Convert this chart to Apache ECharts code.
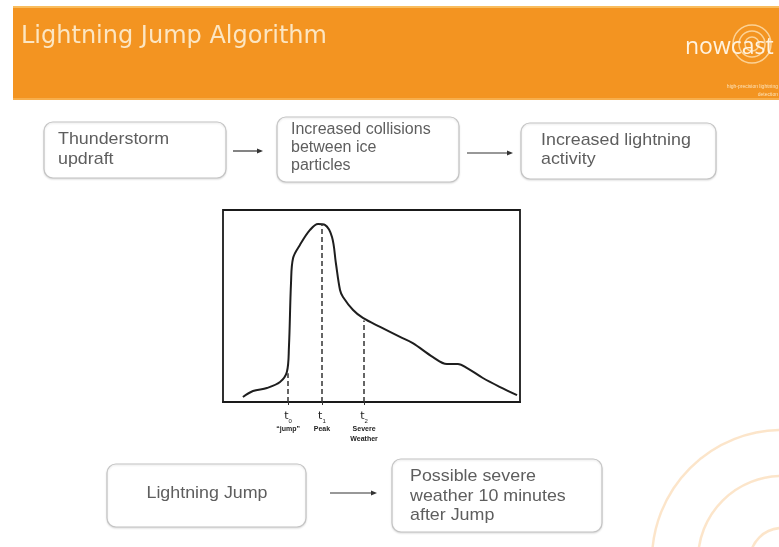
<!DOCTYPE html>
<html>
<head>
<meta charset="utf-8">
<script src="https://cdn.jsdelivr.net/npm/echarts@6/dist/echarts.min.js"></script>
<style>
  html, body { margin: 0; padding: 0; background: #fff; }
  #main { width: 779px; height: 547px; }
</style>
</head>
<body>
<div id="main"></div>
<script>
// lightning activity curve (time 0-100, activity 0-100)
var timeSteps = [6.7, 10.1, 14.8, 19.2, 21.5, 22.2, 22.9, 23.6, 25.9, 29.3, 32.0, 34.3, 36.7, 38.0, 39.4, 40.4, 43.8, 47.1, 52.9, 59.6, 63.9, 70.7, 75.4, 79.1, 82.2, 87.5, 93.3, 99.0];
var activity  = [2.6, 5.7, 7.3, 10.4, 15.6, 28.6, 62.0, 75.0, 81.8, 89.6, 92.7, 92.2, 85.9, 72.4, 58.3, 54.7, 47.9, 43.8, 39.1, 33.9, 30.7, 23.4, 19.8, 19.8, 17.7, 12.5, 7.8, 3.6];

// marker lines t0, t1, t2
var markerX    = [21.9, 33.3, 47.5];
var markerTop  = [15.0, 92.7, 42.5];
var markerSub  = ['0', '1', '2'];
var markerName = ['\u201cjump\u201d', 'Peak', 'Severe\nWeather'];

// flow boxes
var topBoxText = ['Thunderstorm\nupdraft', 'Increased collisions\nbetween ice\nparticles', 'Increased lightning\nactivity'];
var bottomBoxText = ['Lightning Jump', 'Possible severe\nweather 10 minutes\nafter Jump'];

var textColor = '#5e5e5e';

function box(x, y, w, h) {
    return {
        type: 'rect',
        shape: { x: x, y: y, width: w, height: h, r: 9 },
        style: { fill: '#fff', stroke: '#c4c4c4', lineWidth: 1.2, shadowBlur: 2, shadowColor: 'rgba(0,0,0,0.12)', shadowOffsetY: 1 }
    };
}

function boxText(str, x, y, align, lh, size, sx) {
    return {
        type: 'text',
        x: x, y: y, scaleX: sx || 1.05, scaleY: 1,
        style: {
            text: str, x: 0, y: 0, font: (size || 17) + 'px "Liberation Sans", Arial, sans-serif',
            fill: textColor, lineHeight: lh || 19,
            textAlign: align, align: align, textVerticalAlign: 'middle', verticalAlign: 'middle'
        }
    };
}

function arrow(x1, x2, y) {
    return {
        type: 'group',
        children: [
            { type: 'line', shape: { x1: x1, y1: y, x2: x2 - 5, y2: y }, style: { stroke: '#333', lineWidth: 1.2 } },
            { type: 'polygon', shape: { points: [[x2, y], [x2 - 6, y - 2.5], [x2 - 6, y + 2.5]] }, style: { fill: '#333' } }
        ]
    };
}

var curve = timeSteps.map(function(t, i) {
    return [t, activity[i]];
});

var markLines = markerX.map(function(x, i) {
    return [{ coord: [x, 0] }, { coord: [x, markerTop[i]] }];
});

var chart = echarts.init(document.getElementById('main'));

var graphics = [
    // header band
    { type: 'rect', shape: { x: 13, y: 6, width: 766, height: 94 }, style: { fill: '#F39421' } },
    { type: 'rect', shape: { x: 13, y: 6, width: 766, height: 2 }, style: { fill: '#F9BD5E' } },
    { type: 'rect', shape: { x: 13, y: 98, width: 766, height: 2 }, style: { fill: '#F7AE4C' } },
    { type: 'text', style: { text: 'Lightning Jump Algorithm', x: 21, y: 37, font: '24px "DejaVu Sans", sans-serif', fill: '#FCE6C2', textVerticalAlign: 'middle', verticalAlign: 'middle' } },
    // logo
    { type: 'circle', shape: { cx: 752, cy: 44, r: 7 }, style: { fill: 'none', stroke: 'rgba(255,236,200,0.7)', lineWidth: 1.5 } },
    { type: 'circle', shape: { cx: 752, cy: 44, r: 13 }, style: { fill: 'none', stroke: 'rgba(255,236,200,0.7)', lineWidth: 1.5 } },
    { type: 'circle', shape: { cx: 752, cy: 44, r: 19 }, style: { fill: 'none', stroke: 'rgba(255,236,200,0.7)', lineWidth: 1.5 } },
    { type: 'text', style: { text: 'nowcast', x: 685, y: 47, font: '23px "Open Sans", sans-serif', fill: '#FFF3E0', textVerticalAlign: 'middle', verticalAlign: 'middle' } },
    { type: 'text', style: { text: 'high-precision lightning\ndetection', x: 778, y: 91, font: '5px sans-serif', fill: '#FCE2B8', lineHeight: 8, textAlign: 'right', align: 'right', textVerticalAlign: 'middle', verticalAlign: 'middle' } },
    // decorative arcs
    { type: 'circle', shape: { cx: 782, cy: 560, r: 130 }, style: { fill: 'none', stroke: 'rgba(244,170,80,0.3)', lineWidth: 2.5 } },
    { type: 'circle', shape: { cx: 782, cy: 560, r: 84 }, style: { fill: 'none', stroke: 'rgba(244,170,80,0.3)', lineWidth: 2.5 } },
    { type: 'circle', shape: { cx: 782, cy: 560, r: 32 }, style: { fill: 'none', stroke: 'rgba(244,170,80,0.3)', lineWidth: 2.5 } },
    // top flow
    box(44, 122, 182, 56), boxText(topBoxText[0], 58, 149, 'left', 20),
    arrow(233, 263, 151),
    box(277, 117, 182, 65), boxText(topBoxText[1], 291, 148, 'left', 18, 16, 1),
    arrow(467, 513, 153),
    box(521, 123, 195, 56), boxText(topBoxText[2], 541, 150, 'left', 19),
    // bottom flow
    box(107, 464, 199, 63), boxText(bottomBoxText[0], 207, 493, 'center'),
    arrow(330, 377, 493),
    box(392, 459, 210, 73), boxText(bottomBoxText[1], 410, 496, 'left', 19.5)
];

var option = {
    animation: false,
    backgroundColor: '#fff',
    grid: { left: 223, top: 210, width: 297, height: 192, show: true, borderColor: '#1a1a1a', borderWidth: 1.8, containLabel: false },
    xAxis: {
        type: 'value', min: 0, max: 100,
        axisLine: { show: true, lineStyle: { color: '#1a1a1a', width: 1.8 } },
        splitLine: { show: false },
        axisTick: { show: true, customValues: markerX, length: 3, inside: false, lineStyle: { color: '#333' } },
        axisLabel: {
            show: true, customValues: markerX, margin: 7,
            formatter: function(v) {
                var i = markerX.indexOf(v);
                if (i < 0) return '';
                var lines = markerName[i].split('\n').map(function(s) {
                    return '{w|' + s + '}';
                });
                return '{t|t}{s|' + markerSub[i] + '}\n' + lines.join('\n');
            },
            rich: {
                t: { fontSize: 11, lineHeight: 15, color: '#222', fontFamily: 'DejaVu Sans' },
                s: { fontSize: 6, lineHeight: 15, color: '#222', verticalAlign: 'bottom', padding: [5, 0, 0, 0] },
                w: { fontSize: 7, lineHeight: 10, color: '#222', fontWeight: 'bold', fontFamily: 'Liberation Sans' }
            }
        }
    },
    yAxis: {
        type: 'value', min: 0, max: 100, show: false
    },
    series: [{
        type: 'line',
        data: curve,
        smooth: 0.35,
        symbol: 'none',
        lineStyle: { color: '#1e1e1e', width: 2 },
        markLine: {
            silent: true,
            symbol: 'none',
            label: { show: false },
            lineStyle: { color: '#333', width: 1.5, type: [5, 3] },
            data: markLines
        }
    }],
    graphic: graphics
};

chart.setOption(option);
</script>
</body>
</html>
